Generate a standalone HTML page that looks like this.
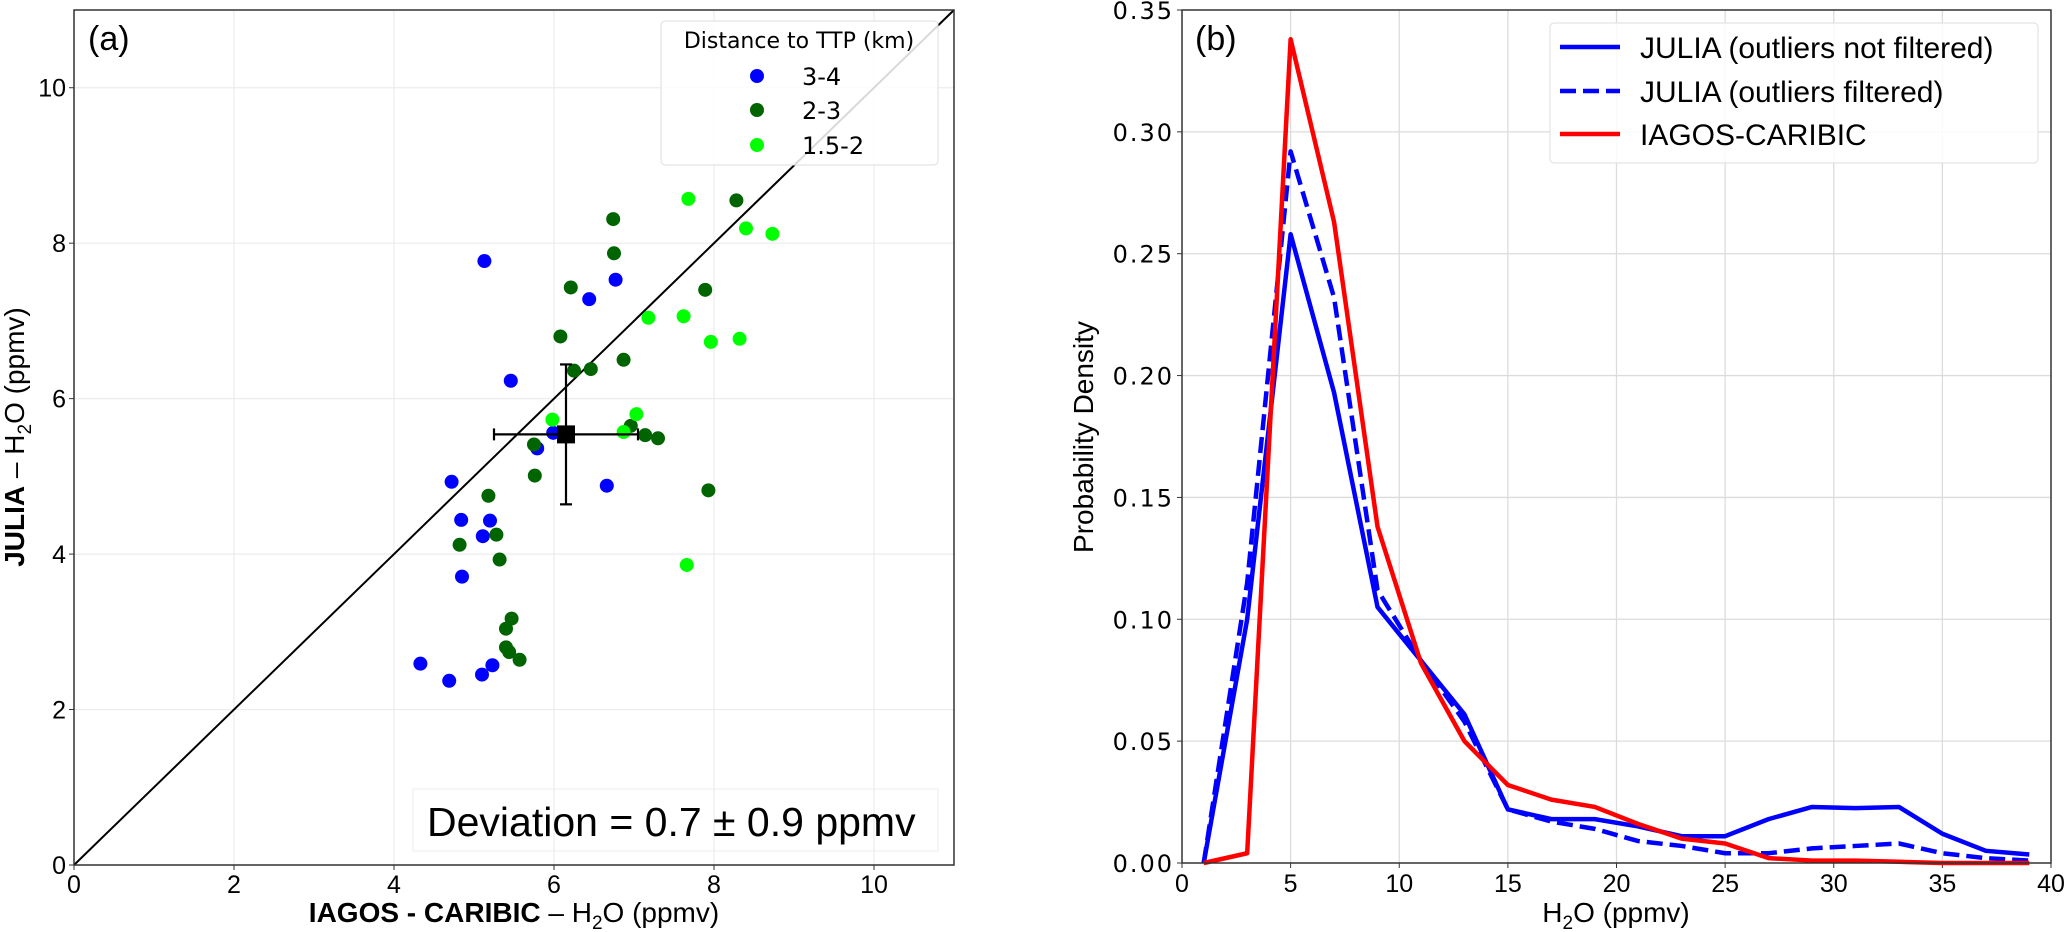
<!DOCTYPE html>
<html><head><meta charset="utf-8"><style>
html,body{margin:0;padding:0;background:#fff;}
svg{display:block;font-family:"Liberation Sans",sans-serif;}
</style></head><body>
<svg id="fig" width="2067" height="932" xmlns="http://www.w3.org/2000/svg">
<g id="pa"></g>
<g id="pb"></g>
</svg>
<script>
// Panel (a) data
const blueX=[5.13,6.77,6.44,5.46,5.99,5.79,4.72,6.66,4.84,5.20,5.11,4.85,4.33,4.69,5.10,5.23];
const blueY=[7.77,7.53,7.28,6.23,5.56,5.36,4.93,4.88,4.44,4.43,4.23,3.71,2.59,2.37,2.45,2.57];
const dgreenX=[6.74,6.75,8.28,6.21,7.89,6.08,6.87,6.25,6.46,6.96,7.14,7.30,5.75,5.76,7.93,5.18,4.82,5.28,5.32,5.47,5.40,5.40,5.44,5.57];
const dgreenY=[8.31,7.87,8.55,7.43,7.40,6.80,6.50,6.36,6.38,5.65,5.53,5.49,5.41,5.01,4.82,4.75,4.12,4.25,3.93,3.17,3.04,2.80,2.74,2.64];
const lgreenX=[7.68,8.40,8.73,7.18,7.62,7.96,8.32,5.98,7.03,6.87,7.66];
const lgreenY=[8.57,8.19,8.12,7.04,7.06,6.73,6.77,5.73,5.80,5.57,3.86];
const meanXY=[6.15,5.54];
const meanErr=[0.9,0.9];
const aTicks=[0,2,4,6,8,10];
// Panel (b) data
const bX=[1,3,5,7,9,11,13,15,17,19,21,23,25,27,29,31,33,35,37,39];
const juliaAll=[0,0.10,0.258,0.193,0.105,0.083,0.061,0.022,0.018,0.018,0.015,0.011,0.011,0.018,0.023,0.0225,0.023,0.012,0.005,0.0035];
const juliaFilt=[0,0.115,0.292,0.232,0.112,0.083,0.058,0.022,0.017,0.014,0.009,0.007,0.004,0.004,0.006,0.007,0.008,0.004,0.002,0.001];
const iagos=[0,0.004,0.338,0.263,0.138,0.082,0.050,0.032,0.026,0.023,0.016,0.010,0.008,0.002,0.001,0.001,0.0005,0,0,0];
const bXTicks=[0,5,10,15,20,25,30,35,40];
const bYTicks=[0,0.05,0.10,0.15,0.20,0.25,0.30,0.35];

const NS="http://www.w3.org/2000/svg";
function mk(parent,tag,attrs,text){const e=document.createElementNS(NS,tag);for(const k in attrs)e.setAttribute(k,attrs[k]);if(text!==undefined)e.textContent=text;parent.appendChild(e);return e;}

// ---- Panel A ----
const pa=document.getElementById('pa');
const AL=74,AR=954,AT=10,AB=865;
const ax=v=>AL+(v/11)*(AR-AL), ay=v=>AB-(v/11)*(AB-AT);
aTicks.forEach(t=>{
  let g=mk(pa,'line',{x1:ax(t),x2:ax(t),y1:AT,y2:AB,stroke:'#ececec','stroke-width':1.2});
  
  g=mk(pa,'line',{x1:AL,x2:AR,y1:ay(t),y2:ay(t),stroke:'#ececec','stroke-width':1.2});
  
  let l=mk(pa,'text',{x:ax(t),y:AB+28,'text-anchor':'middle','font-size':25},String(t));
  
  l=mk(pa,'text',{x:AL-8,y:ay(t)+9,'text-anchor':'end','font-size':25},String(t));
  
  mk(pa,'line',{x1:ax(t),x2:ax(t),y1:AB,y2:AB+5,stroke:'#333'});
  mk(pa,'line',{x1:AL-5,x2:AL,y1:ay(t),y2:ay(t),stroke:'#333'});
});
let d=mk(pa,'line',{x1:ax(0),y1:ay(0),x2:ax(11),y2:ay(11),stroke:'#000','stroke-width':2});

function pts(xs,ys,col,name){xs.forEach((x,i)=>{const c=mk(pa,'circle',{cx:ax(x),cy:ay(ys[i]),r:7,fill:col});});}
pts(blueX,blueY,'#0000ff','point-3-4km');
pts(dgreenX,dgreenY,'#006400','point-2-3km');
pts(lgreenX,lgreenY,'#00ff00','point-1.5-2km');
const mx=ax(meanXY[0]),my=ay(meanXY[1]);
const x1=ax(meanXY[0]-meanErr[0]),x2=ax(meanXY[0]+meanErr[0]),y1=ay(meanXY[1]+meanErr[1]),y2=ay(meanXY[1]-meanErr[1]);
let eg=mk(pa,'g',{stroke:'#000','stroke-width':2.2});

mk(eg,'line',{x1:x1,x2:x2,y1:my,y2:my});mk(eg,'line',{x1:mx,x2:mx,y1:y1,y2:y2});
mk(eg,'line',{x1:x1,x2:x1,y1:my-6,y2:my+6});mk(eg,'line',{x1:x2,x2:x2,y1:my-6,y2:my+6});
mk(eg,'line',{x1:mx-6,x2:mx+6,y1:y1,y2:y1});mk(eg,'line',{x1:mx-6,x2:mx+6,y1:y2,y2:y2});
let sq=mk(pa,'rect',{x:mx-9,y:my-9,width:18,height:18,fill:'#000'});

let fr=mk(pa,'rect',{x:AL,y:AT,width:AR-AL,height:AB-AT,fill:'none',stroke:'#333','stroke-width':1.5});

</script>
<script>
const pa2=document.getElementById('pa');
function T(p,attrs,txt,name){const e=mk(p,'text',attrs,txt);return e;}
T(pa2,{x:88,y:50,'font-size':34},'(a)','panel-label-a');
let lg=mk(pa2,'g',{});
mk(lg,'rect',{x:661,y:21,width:277,height:144,rx:4,fill:'#fff','fill-opacity':0.85,stroke:'#ddd'});
T(lg,{x:799,y:48,'text-anchor':'middle','font-size':22,'font-family':'DejaVu Sans, sans-serif'},'Distance to TTP (km)','legend-title');
[['#0000ff','3-4',76],['#006400','2-3',110],['#00ff00','1.5-2',145]].forEach(e=>{
  const c=mk(lg,'circle',{cx:757,cy:e[2],r:7,fill:e[0]});
  T(lg,{x:802,y:e[2]+9,'font-size':24,'font-family':'DejaVu Sans, sans-serif'},e[1],'legend-entry');
});
let db=mk(pa2,'rect',{x:413,y:789,width:525,height:62,fill:'none',stroke:'#eee'});

T(pa2,{x:427,y:836,'font-size':41},'Deviation = 0.7 ± 0.9 ppmv','deviation-annotation');
const xl=T(pa2,{x:514,y:922,'text-anchor':'middle','font-size':28},'','x-axis-title-a');
xl.innerHTML='<tspan font-weight="bold">IAGOS - CARIBIC</tspan> – H<tspan font-size="19" dy="7">2</tspan><tspan dy="-7">O (ppmv)</tspan>';
const yl=T(pa2,{x:0,y:0,'text-anchor':'middle','font-size':28,transform:'translate(24,437) rotate(-90)'},'','y-axis-title-a');
yl.innerHTML='<tspan font-weight="bold">JULIA</tspan> – H<tspan font-size="19" dy="7">2</tspan><tspan dy="-7">O (ppmv)</tspan>';

// ---- Panel B ----
const pb=document.getElementById('pb');
const BL=1182,BR=2051,BT=10,BB=863;
const bx=v=>BL+(v/40)*(BR-BL), by=v=>BB-(v/0.35)*(BB-BT);
bXTicks.forEach(t=>{
  if(t>0&&t<40){const g=mk(pb,'line',{x1:bx(t),x2:bx(t),y1:BT,y2:BB,stroke:'#dcdcdc','stroke-width':1.3});}
  mk(pb,'line',{x1:bx(t),x2:bx(t),y1:BB,y2:BB+5,stroke:'#333'});
  T(pb,{x:bx(t),y:BB+29,'text-anchor':'middle','font-size':25},String(t),'x-tick-label-b');
});
bYTicks.forEach(t=>{
  if(t>0&&t<0.35){const g=mk(pb,'line',{x1:BL,x2:BR,y1:by(t),y2:by(t),stroke:'#dcdcdc','stroke-width':1.3});}
  mk(pb,'line',{x1:BL-5,x2:BL,y1:by(t),y2:by(t),stroke:'#333'});
  T(pb,{x:BL-8,y:by(t)+9,'text-anchor':'end','font-size':24,'font-family':'DejaVu Sans, sans-serif','letter-spacing':2},t.toFixed(2),'y-tick-label-b');
});
function line(ys,col,dash,name){
  const p=mk(pb,'polyline',{points:bX.map((x,i)=>bx(x)+','+by(ys[i])).join(' '),fill:'none',stroke:col,'stroke-width':4.5,'stroke-linejoin':'round'});
  if(dash)p.setAttribute('stroke-dasharray',dash);
  
}
line(juliaAll,'#0000ff',null,'line-julia-not-filtered');
line(juliaFilt,'#0000ff','16,7','line-julia-filtered');
line(iagos,'#ff0000',null,'line-iagos-caribic');
let fb=mk(pb,'rect',{x:BL,y:BT,width:BR-BL,height:BB-BT,fill:'none',stroke:'#333','stroke-width':1.5});

T(pb,{x:1195,y:50,'font-size':34},'(b)','panel-label-b');
let lb=mk(pb,'g',{});
mk(lb,'rect',{x:1550,y:23,width:488,height:140,rx:4,fill:'#fff','fill-opacity':0.85,stroke:'#ddd'});
[['#0000ff',null,'JULIA (outliers not filtered)',47],['#0000ff','16,7','JULIA (outliers filtered)',91],['#ff0000',null,'IAGOS-CARIBIC',134]].forEach(e=>{
  const l=mk(lb,'line',{x1:1560,x2:1620,y1:e[3],y2:e[3],stroke:e[0],'stroke-width':4.5});
  if(e[1])l.setAttribute('stroke-dasharray',e[1]);
  
  T(lb,{x:1640,y:e[3]+11,'font-size':30},e[2],'legend-entry-b');
});
const bxl=T(pb,{x:1616,y:922,'text-anchor':'middle','font-size':28},'','x-axis-title-b');
bxl.innerHTML='H<tspan font-size="19" dy="7">2</tspan><tspan dy="-7">O (ppmv)</tspan>';
T(pb,{x:0,y:0,'text-anchor':'middle','font-size':28,transform:'translate(1093,437) rotate(-90)'},'Probability Density','y-axis-title-b');
</script>
</body></html>
